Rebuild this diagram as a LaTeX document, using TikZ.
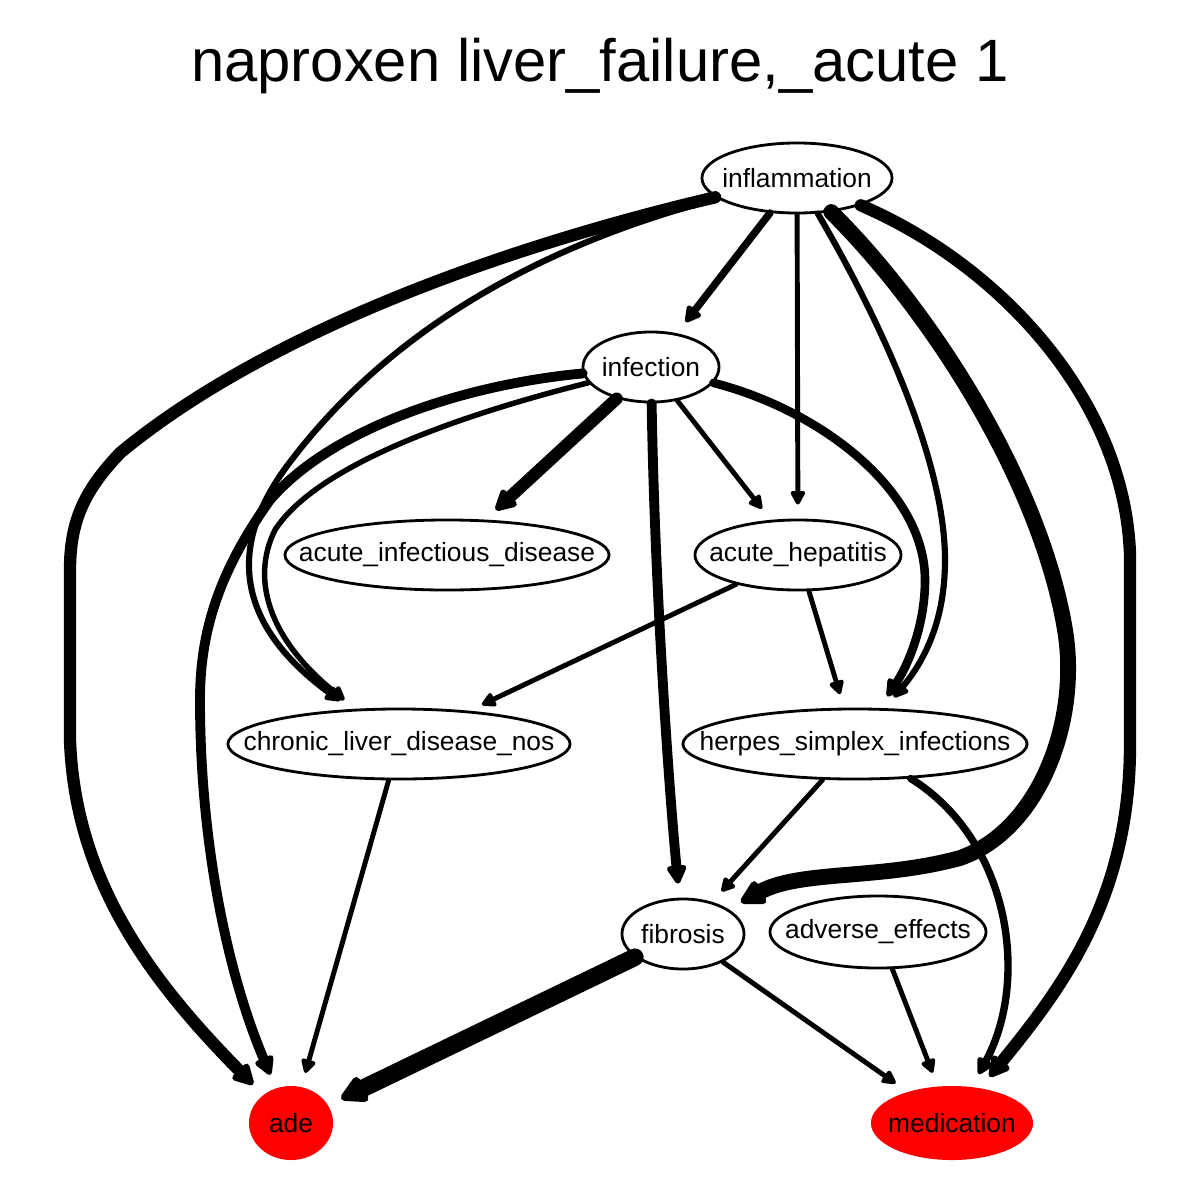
\documentclass[tikz,border=0pt]{standalone}
\usepackage{fontspec}
\setmainfont{Liberation Sans}
\usetikzlibrary{arrows.meta,shapes.geometric}
\newcommand{\ndtext}[1]{\makebox[0pt]{#1}}

\begin{document}
\begin{tikzpicture}[x=0.01cm, y=-0.01cm,
  ent/.style={ellipse, draw, line width=0.8pt, inner sep=0pt, minimum height=0.7cm, font=\fontsize{7.5}{9}\selectfont},
  hit/.style={ellipse, fill=red, inner sep=0pt, minimum height=0.74cm, font=\fontsize{7.5}{9}\selectfont},
  lnk/.style={line width=#1, line cap=round, line join=round, -{Triangle[length=3pt 1.1, width=3pt 1.1, round]}, shorten >=4pt}]
  \useasboundingbox (0,0) rectangle (1200,1200);
  \node[font=\fontsize{17}{20}\selectfont] (title) at (600,66) {naproxen liver\_failure,\_acute 1};

  % concepts
  \node[ent, minimum width=1.90cm] (infl) at (797,178) {\ndtext{inflammation}};
  \node[ent, minimum width=1.36cm] (infec) at (651,367) {\ndtext{infection}};
  \node[ent, minimum width=3.24cm] (aid) at (447,555) {\ndtext{acute\_infectious\_disease}};
  \node[ent, minimum width=2.06cm] (ahep) at (798,555) {\ndtext{acute\_hepatitis}};
  \node[ent, minimum width=3.42cm] (cldn) at (399,744) {\ndtext{chronic\_liver\_disease\_nos}};
  \node[ent, minimum width=3.44cm] (hsi) at (855,744) {\ndtext{herpes\_simplex\_infections}};
  \node[ent, minimum width=1.22cm] (fib) at (683,934) {\ndtext{fibrosis}};
  \node[ent, minimum width=2.16cm, minimum height=0.72cm] (adv) at (878,932) {\ndtext{adverse\_effects}};

  % end points
  \node[hit, minimum width=0.84cm] (ade) at (291,1123) {\ndtext{ade}};
  \node[hit, minimum width=1.62cm] (med) at (952,1123) {\ndtext{medication}};

  % from inflammation
  \draw[lnk=2.1pt] (infl) -- (infec);
  \draw[lnk=1.4pt] (infl) -- (ahep);
  \draw[lnk=1.75pt] (infl) .. controls (880,320) and (945,460) .. (945,560) .. controls (945,620) and (925,660) .. (hsi);
  \draw[lnk=4.5pt] (infl) .. controls (930,310) and (1040,480) .. (1065,630) .. controls (1080,720) and (1040,830) .. (960,858) .. controls (880,880) and (800,870) .. (fib);
  \draw[lnk=3.5pt] (infl) .. controls (1000,265) and (1125,400) .. (1130,555) -- (1130,745) .. controls (1130,900) and (1060,990) .. (med);
  \draw[lnk=3.5pt] (infl) .. controls (470,255) and (250,345) .. (120,453) .. controls (85,490) and (70,520) .. (70,570) -- (70,740) .. controls (75,880) and (150,980) .. (ade);
  \draw[lnk=1.75pt] (infl) .. controls (540,245) and (390,330) .. (290,462) .. controls (230,540) and (230,620) .. (cldn);

  % from infection
  \draw[lnk=3.5pt] (infec) -- (aid);
  \draw[lnk=1.4pt] (infec) -- (ahep);
  \draw[lnk=2.8pt] (infec) .. controls (655,600) and (670,800) .. (fib);
  \draw[lnk=2.45pt] (infec) .. controls (820,410) and (925,490) .. (925,580) .. controls (925,630) and (905,670) .. (hsi);
  \draw[lnk=2.8pt] (infec) .. controls (460,385) and (330,430) .. (270,500) .. controls (220,570) and (200,630) .. (200,700) .. controls (200,850) and (230,980) .. (ade);
  \draw[lnk=1.55pt] (infec) .. controls (480,410) and (320,460) .. (275,530) .. controls (250,580) and (270,640) .. (cldn);

  % the rest
  \draw[lnk=1.4pt] (ahep) -- (cldn);
  \draw[lnk=1.4pt] (ahep) -- (hsi);
  \draw[lnk=1.4pt] (cldn) -- (ade);
  \draw[lnk=1.4pt] (hsi) -- (fib);
  \draw[lnk=2.1pt] (hsi) .. controls (1010,840) and (1030,980) .. (med);
  \draw[lnk=5pt] (fib) -- (ade);
  \draw[lnk=1.4pt] (fib) -- (med);
  \draw[lnk=1.4pt] (adv) -- (med);
\end{tikzpicture}
\end{document}
